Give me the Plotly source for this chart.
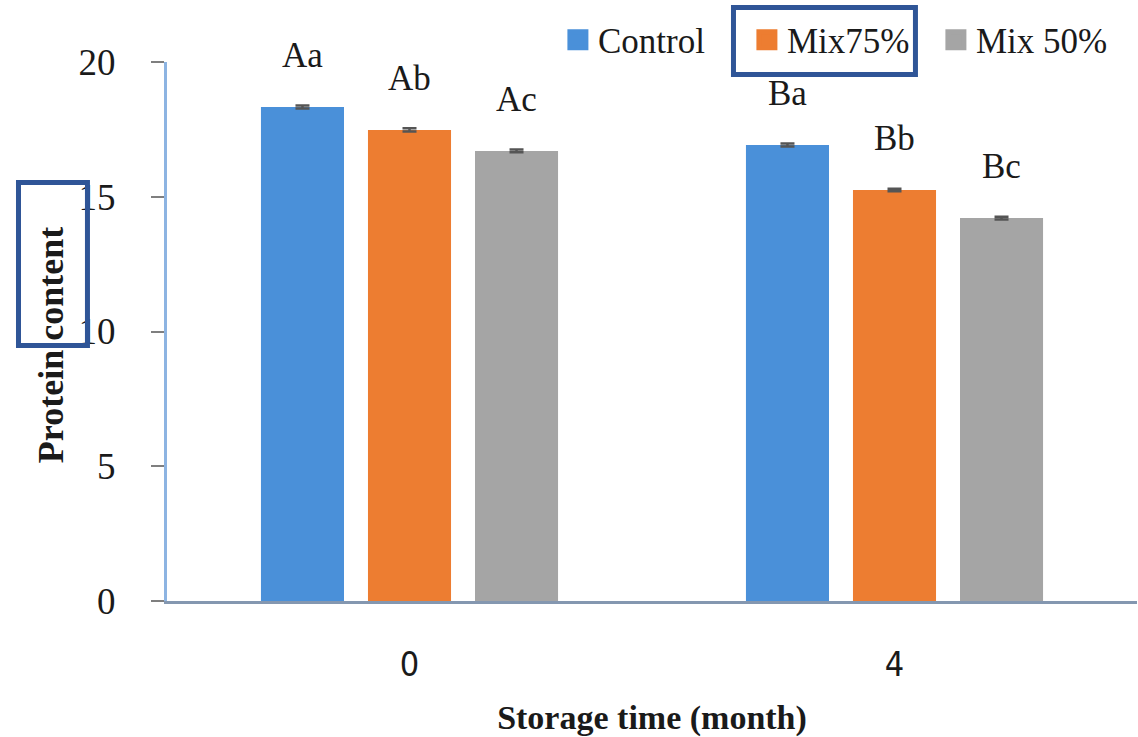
import plotly.graph_objects as go

# ---- data ----
categories = ["0", "4"]                      # storage time (month)
series_names = ["Control", "Mix75%", "Mix 50%"]
control = [18.33, 16.92]
mix75 = [17.48, 15.25]
mix50 = [16.70, 14.21]
control_err = [0.06, 0.06]
mix75_err = [0.06, 0.05]
mix50_err = [0.05, 0.05]
control_letters = ["Aa", "Ba"]
mix75_letters = ["Ab", "Bb"]
mix50_letters = ["Ac", "Bc"]
y_ticks = [0, 5, 10, 15, 20]

# ---- style ----
colors = ["#4A90D9", "#ED7D31", "#A5A5A5"]
SERIF = "Liberation Serif, Times New Roman, serif"
NARROW = "Liberation Sans Narrow, DejaVu Sans Condensed, sans-serif"
BARGAP = 0.338
BARGROUPGAP = 0.224

values = [control, mix75, mix50]
errors = [control_err, mix75_err, mix50_err]
letters = [control_letters, mix75_letters, mix50_letters]
xpos = list(range(len(categories)))

fig = go.Figure()
for name, vals, errs, color in zip(series_names, values, errors, colors):
    fig.add_trace(go.Bar(
        x=xpos, y=vals, name=name, marker=dict(color=color, line=dict(width=0)),
        error_y=dict(type="data", array=errs, visible=True, color="#555555",
                     thickness=2.5, width=7),
        showlegend=False, legendgroup=name, hoverinfo="skip",
    ))
# legend entries with larger square swatches
for name, color in zip(series_names, colors):
    fig.add_trace(go.Scatter(
        x=[None], y=[None], mode="markers", name=name, legendgroup=name,
        marker=dict(symbol="square", size=16, color=color,
                    line=dict(color=color, width=5)),
        hoverinfo="skip",
    ))

# significance letters above each bar
slot = (1 - BARGAP) / len(series_names)
annotations = []
for j, (vals, labs) in enumerate(zip(values, letters)):
    for i, (v, t) in enumerate(zip(vals, labs)):
        annotations.append(dict(
            x=xpos[i] + (j - (len(series_names) - 1) / 2) * slot, y=v,
            xref="x", yref="y", text=t, showarrow=False,
            yanchor="bottom", xanchor="center", yshift=30,
            font=dict(family=SERIF, size=35, color="#1a1a1a"),
        ))

# highlight boxes (dark blue frames)
shapes = [
    dict(type="rect", xref="paper", yref="paper",
         x0=0.5840, x1=0.7716, y0=0.9768, y1=1.1011,
         line=dict(color="#2F5597", width=5), fillcolor="rgba(0,0,0,0)", layer="above"),
    dict(type="rect", xref="paper", yref="paper",
         x0=-0.1531, x1=-0.0820, y0=0.4740, y1=0.7764,
         line=dict(color="#2F5597", width=5), fillcolor="rgba(0,0,0,0)", layer="above"),
]

fig.update_layout(
    width=1138, height=737,
    margin=dict(l=167, r=1, t=62, b=136),
    paper_bgcolor="white", plot_bgcolor="white",
    barmode="group", bargap=BARGAP, bargroupgap=BARGROUPGAP,
    annotations=annotations, shapes=shapes,
    legend=dict(orientation="h", x=0.403, xanchor="left", y=1.041, yanchor="middle",
                font=dict(family=SERIF, size=35, color="#1a1a1a"),
                bgcolor="rgba(0,0,0,0)", entrywidth=144, entrywidthmode="pixels"),
    xaxis=dict(range=[-0.5, 1.5], tickvals=xpos, ticktext=categories,
               showline=True, linecolor="#8497B0", linewidth=3,
               ticks="", showgrid=False, zeroline=False,
               tickfont=dict(family=NARROW, size=34, color="#1a1a1a"),
               ticklabelstandoff=31,
               title=dict(text="<b>Storage time (month)</b>", standoff=27,
                          font=dict(family=SERIF, size=34, color="#1a1a1a"))),
    yaxis=dict(range=[0, 20], tickvals=y_ticks, ticktext=[str(v) for v in y_ticks],
               showline=True, linecolor="#8DB4E2", linewidth=3,
               ticks="outside", ticklen=13, tickwidth=2, tickcolor="#7F7F7F",
               showgrid=False, zeroline=False,
               tickfont=dict(family=SERIF, size=37, color="#1a1a1a"),
               ticklabelstandoff=28,
               title=dict(text="<b>Protein content</b>&#160;&#160;&#160;", standoff=4,
                          font=dict(family=SERIF, size=36, color="#1a1a1a"))),
)

fig.write_html("out.html", config={"displayModeBar": False},
               post_script="document.body.style.margin='0';")
